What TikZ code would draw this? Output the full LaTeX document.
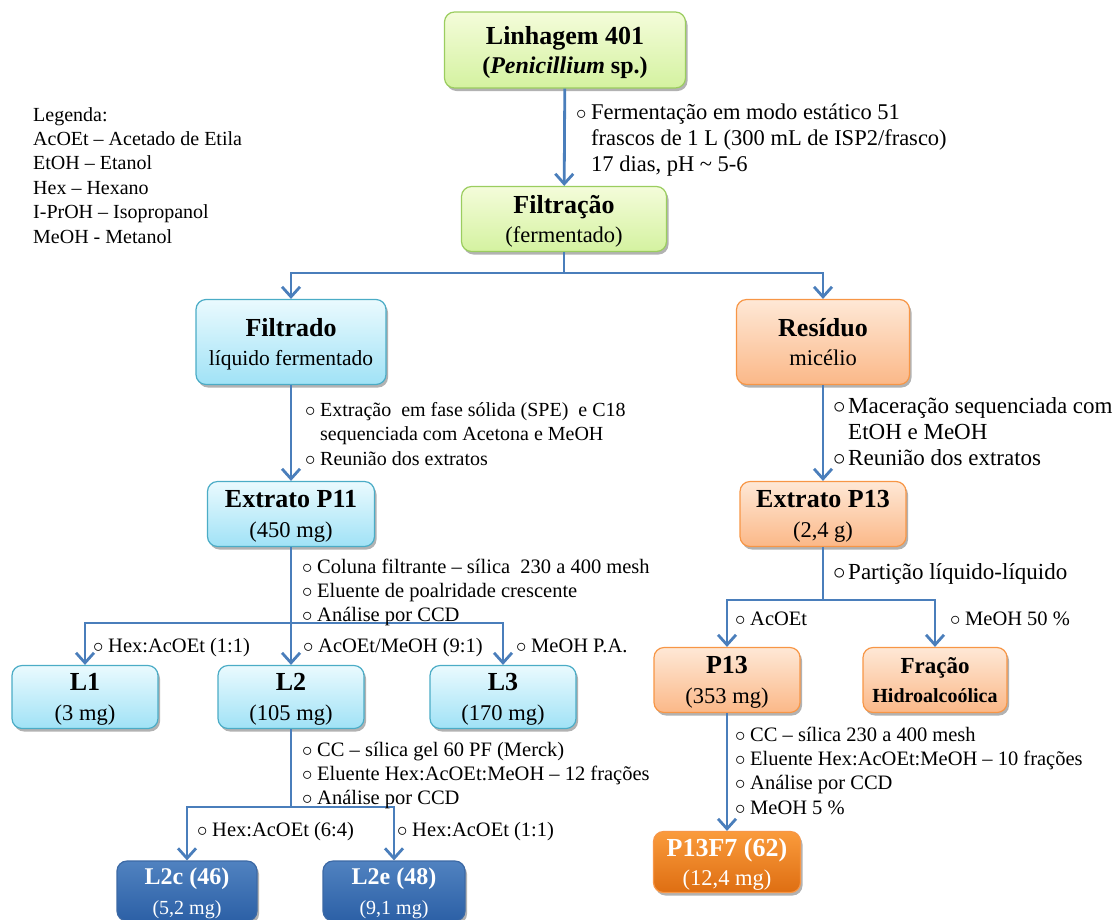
\documentclass[tikz,border=0pt]{standalone}
\usepackage{fontspec}
\setmainfont{Liberation Serif}
\usetikzlibrary{arrows.meta, shadows}
\definecolor{flowblue}{RGB}{74,126,187}
\definecolor{greentop}{RGB}{244,252,218}
\definecolor{greenbot}{RGB}{212,242,160}
\definecolor{greenline}{RGB}{155,205,95}
\definecolor{cyantop}{RGB}{234,250,254}
\definecolor{cyanbot}{RGB}{160,226,246}
\definecolor{cyanline}{RGB}{75,172,198}
\definecolor{peachtop}{RGB}{254,232,214}
\definecolor{peachbot}{RGB}{251,184,136}
\definecolor{peachline}{RGB}{247,150,70}
\definecolor{navytop}{RGB}{80,130,192}
\definecolor{navybot}{RGB}{44,96,166}
\definecolor{navyline}{RGB}{60,105,165}
\definecolor{ambertop}{RGB}{250,155,60}
\definecolor{amberbot}{RGB}{222,110,18}
\newcommand{\bul}{\makebox[15pt][l]{$\circ$}}
\newcommand{\ind}{\hspace*{15pt}}
\newcommand{\ttl}[1]{{\fontsize{26}{28}\selectfont\bfseries #1}}

\begin{document}
\begin{tikzpicture}[x=1pt, y=-1pt,
    box/.style={draw, line width=1.2pt, rounded corners=10pt, align=center, inner sep=0pt,
        font=\fontsize{22.5}{29.5}\selectfont, text depth=-9pt,
        drop shadow={shadow xshift=2pt, shadow yshift=-3pt, opacity=0.3, fill=black}},
    greenbox/.style={box, draw=greenline, top color=greentop, bottom color=greenbot},
    cyanbox/.style={box, draw=cyanline, top color=cyantop, bottom color=cyanbot},
    peachbox/.style={box, draw=peachline, top color=peachtop, bottom color=peachbot},
    navybox/.style={box, draw=navyline, top color=navytop, bottom color=navybot, text=white},
    amberbox/.style={box, draw=peachline, top color=ambertop, bottom color=amberbot, text=white},
    link/.style={draw=flowblue, line width=2.8pt},
    arr/.style={link, -{Straight Barb[length=10pt, width=18pt]}},
    ann/.style={anchor=base west, align=left, inner sep=0pt, font=\fontsize{20.5}{24.5}\selectfont}]

    \useasboundingbox (0,0) rectangle (1115,919);

    % legend (base = last line)
    \node[ann, font=\fontsize{20}{24.4}\selectfont] (legenda) at (33,243)
        {Legenda:\\AcOEt -- Acetado de Etila\\EtOH -- Etanol\\Hex -- Hexano\\I-PrOH -- Isopropanol\\MeOH - Metanol};

    % boxes
    \node[greenbox, minimum width=241pt, minimum height=76pt] (lin401) at (565,50)
        {\ttl{Linhagem 401}\\{\fontsize{24}{29}\selectfont\bfseries(\textit{Penicillium} sp.)}};
    \node[greenbox, minimum width=205pt, minimum height=65pt] (filtracao) at (564,219)
        {\ttl{Filtração}\\(fermentado)};
    \node[cyanbox, minimum width=190pt, minimum height=85pt] (filtrado) at (291,342)
        {\ttl{Filtrado}\\{\fontsize{21.5}{29}\selectfont líquido fermentado}};
    \node[peachbox, minimum width=173pt, minimum height=85pt] (residuo) at (823,342)
        {\ttl{Resíduo}\\micélio};
    \node[cyanbox, minimum width=167pt, minimum height=65pt] (p11) at (291,514)
        {\ttl{Extrato P11}\\(450 mg)};
    \node[peachbox, minimum width=166pt, minimum height=65pt] (p13ext) at (823,514)
        {\ttl{Extrato P13}\\(2,4 g)};
    \node[cyanbox, minimum width=146pt, minimum height=63pt] (l1) at (85,697)
        {\ttl{L1}\\(3 mg)};
    \node[cyanbox, minimum width=146pt, minimum height=63pt] (l2) at (291,697)
        {\ttl{L2}\\(105 mg)};
    \node[cyanbox, minimum width=146pt, minimum height=63pt] (l3) at (503,697)
        {\ttl{L3}\\(170 mg)};
    \node[navybox, minimum width=140pt, minimum height=60pt] (l2c) at (187,891)
        {{\fontsize{24}{28}\selectfont\bfseries L2c (46)}\\{\fontsize{20}{26}\selectfont(5,2 mg)}};
    \node[navybox, minimum width=142pt, minimum height=60pt] (l2e) at (394,891)
        {{\fontsize{24}{28}\selectfont\bfseries L2e (48)}\\{\fontsize{20}{26}\selectfont(9,1 mg)}};
    \node[peachbox, minimum width=146pt, minimum height=65pt] (p13) at (727,680)
        {\ttl{P13}\\(353 mg)};
    \node[peachbox, minimum width=144pt, minimum height=65pt] (fracao) at (935,680)
        {{\fontsize{23}{27}\selectfont\bfseries Fração}\\{\fontsize{20}{26}\selectfont\bfseries Hidroalcoólica}};
    \node[amberbox, minimum width=147pt, minimum height=61pt] (p13f7) at (727,862)
        {\ttl{P13F7 (62)}\\(12,4 mg)};

    % branch points
    \coordinate (split0) at (564,273);
    \coordinate (split1) at (291,623);
    \coordinate (split2) at (291,807);
    \coordinate (split3) at (823,600);

    % connectors
    \draw[arr] (lin401) -- (filtracao);
    \draw[link] (filtracao) -- (split0);
    \draw[arr] (split0) -| (filtrado);
    \draw[arr] (split0) -| (residuo);
    \draw[arr] (filtrado) -- (p11);
    \draw[arr] (residuo) -- (p13ext);
    \draw[link] (p11) -- (split1);
    \draw[arr] (split1) -| (l1);
    \draw[arr] (split1) -- (l2);
    \draw[arr] (split1) -| (l3);
    \draw[link] (l2) -- (split2);
    \draw[arr] (split2) -| (l2c);
    \draw[arr] (split2) -| (l2e);
    \draw[link] (p13ext) -- (split3);
    \draw[arr] (split3) -| (p13);
    \draw[arr] (split3) -| (fracao);
    \draw[arr] (p13) -- (p13f7);

    % annotations (anchored at the baseline of the last line)
    \node[ann, font=\fontsize{22.5}{26}\selectfont] (fermnote) at (576,171)
        {\bul Fermentação em modo estático 51\\\ind frascos de 1 L (300 mL de ISP2/frasco)\\\ind 17 dias, pH \textasciitilde{} 5-6};
    \node[ann, font=\fontsize{20}{24.5}\selectfont] (filtnote) at (305,465)
        {\bul Extração \ em fase sólida (SPE) \ e C18\\\ind sequenciada com Acetona e MeOH\\\bul Reunião dos extratos};
    \node[ann, font=\fontsize{23}{26}\selectfont] (resnote) at (833,465)
        {\bul Maceração sequenciada com\\\ind EtOH e MeOH\\\bul Reunião dos extratos};
    \node[ann, font=\fontsize{20.5}{24}\selectfont] (p11note) at (302,621)
        {\bul Coluna filtrante -- sílica \ 230 a 400 mesh\\\bul Eluente de poalridade crescente\\\bul Análise por CCD};
    \node[ann, font=\fontsize{23}{26}\selectfont] (partnote) at (833,579) {\bul Partição líquido-líquido};
    \node[ann] (l1note) at (93,652) {\bul Hex:AcOEt (1:1)};
    \node[ann] (l2note) at (303,652) {\bul AcOEt/MeOH (9:1)};
    \node[ann] (l3note) at (516,652) {\bul MeOH P.A.};
    \node[ann] (acoetnote) at (735,625) {\bul AcOEt};
    \node[ann] (meohnote) at (950,625) {\bul MeOH 50 \%};
    \node[ann, font=\fontsize{20.5}{24}\selectfont] (l2note2) at (302,804)
        {\bul CC -- sílica gel 60 PF (Merck)\\\bul Eluente Hex:AcOEt:MeOH -- 12 frações\\\bul Análise por CCD};
    \node[ann] (l2cnote) at (197,836) {\bul Hex:AcOEt (6:4)};
    \node[ann] (l2enote) at (397,836) {\bul Hex:AcOEt (1:1)};
    \node[ann, font=\fontsize{20.5}{24.3}\selectfont] (p13note) at (735,814)
        {\bul CC -- sílica 230 a 400 mesh\\\bul Eluente Hex:AcOEt:MeOH -- 10 frações\\\bul Análise por CCD\\\bul MeOH 5 \%};
\end{tikzpicture}
\end{document}
